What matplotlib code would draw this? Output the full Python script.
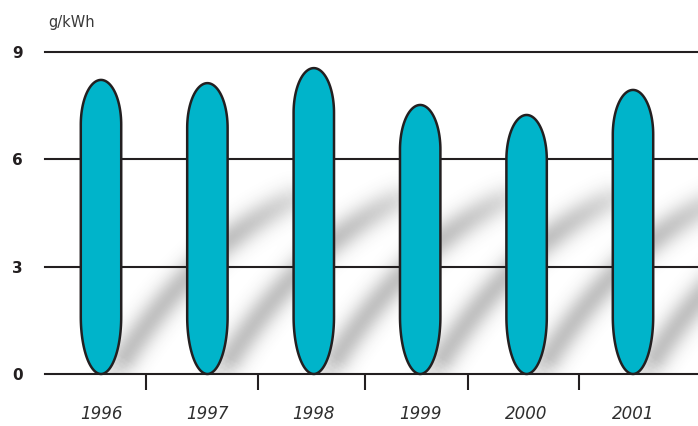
# emission chart: g/kWh per year, capsule bars with soft shadows

import numpy as np
import matplotlib
matplotlib.use("Agg")
import matplotlib.pyplot as plt
from matplotlib.path import Path
from matplotlib.patches import PathPatch


# -------------------------
# Data
# -------------------------
years = ["1996", "1997", "1998", "1999", "2000", "2001"]
values = [8.22, 8.13, 8.55, 7.52, 7.24, 7.94]
y_ticks = [0, 3, 6, 9]
unit_label = "g/kWh"

# -------------------------
# Style / layout
# -------------------------
W, H = 698, 426
BAR_COLOR = "#00b4ca"
INK = "#231f20"
AX_LEFT, AX_BOTTOM, AX_RIGHT, AX_TOP = 45, 52, 698, 374   # pixels from bottom-left
STEP_PX = 106.4                                            # px per category
X0 = -(101 - AX_LEFT) / STEP_PX
X1 = X0 + (AX_RIGHT - AX_LEFT) / STEP_PX
PX_Y = (AX_TOP - AX_BOTTOM) / 9.0
sep_ticks = [0.42, 1.48, 2.48, 3.45, 4.49]


def capsule(xc, top, half_w=0.19, cap_top=1.25, cap_bot=1.6, n=60):
    tb = np.linspace(np.pi, 2 * np.pi, n)
    tt = np.linspace(0, np.pi, n)
    xb = xc + half_w * np.cos(tb)
    yb = cap_bot + cap_bot * np.sin(tb)
    xt = xc + half_w * np.cos(tt)
    yt = top - cap_top + cap_top * np.sin(tt)
    xs = np.concatenate([xb, xt, [xb[0]]])
    ys = np.concatenate([yb, yt, [yb[0]]])
    codes = [Path.MOVETO] + [Path.LINETO] * (len(xs) - 2) + [Path.CLOSEPOLY]
    return Path(np.column_stack([xs, ys]), codes)


def shadow_layer(n_bars, y0=-0.3, y1=9.0, res=2.0):
    nx = int((X1 - X0) * STEP_PX / res)
    ny = int((y1 - y0) * PX_Y / res)
    gx = np.linspace(X0, X1, nx)
    gy = np.linspace(y0, y1, ny)
    X, Y = np.meshgrid(gx, gy)
    t = np.linspace(0, 1, 70)
    keep = np.ones_like(X)
    for i in range(n_bars):
        p0 = np.array([i + 0.13, 0.05])
        p1 = np.array([i + 0.84, 3.47])
        p2 = np.array([i + 1.78, 4.86])
        bx = (1 - t) ** 2 * p0[0] + 2 * (1 - t) * t * p1[0] + t ** 2 * p2[0]
        by = (1 - t) ** 2 * p0[1] + 2 * (1 - t) * t * p1[1] + t ** 2 * p2[1]
        dx = (X[..., None] - bx) * STEP_PX
        dy = (Y[..., None] - by) * PX_Y
        d2 = dx ** 2 + dy ** 2
        k = d2.argmin(axis=-1)
        d = np.sqrt(np.take_along_axis(d2, k[..., None], axis=-1)[..., 0])
        tk = t[k]
        taper = np.clip(tk / 0.06, 0, 1) * np.clip((1 - tk) / 0.3, 0, 1) ** 0.7
        a = 0.32 * np.exp(-(d / 15.0) ** 2) * (0.55 + 0.45 * taper)
        keep *= 1 - a
    alpha = 1 - keep
    img = np.zeros((ny, nx, 4))
    img[..., :3] = 0.25
    img[..., 3] = alpha
    return img, (X0, X1, y0, y1)


fig = plt.figure(figsize=(W / 100, H / 100), dpi=100)
ax = fig.add_axes([AX_LEFT / W, AX_BOTTOM / H,
                   (AX_RIGHT - AX_LEFT) / W, (AX_TOP - AX_BOTTOM) / H])

img, ext = shadow_layer(len(values))
ax.imshow(img, extent=ext, origin="lower", interpolation="bilinear",
          aspect="auto", zorder=0, clip_on=True)
ax.set_xlim(X0, X1)
ax.set_ylim(0, 9)

for v in y_ticks:
    ax.axhline(v, color=INK, lw=1.5, zorder=1, clip_on=False)

for i, v in enumerate(values):
    patch = PathPatch(capsule(i, v), facecolor=BAR_COLOR, edgecolor=INK,
                      lw=1.8, zorder=3, clip_on=False)
    ax.add_patch(patch)

for s in ax.spines.values():
    s.set_visible(False)

ax.set_yticks(y_ticks)
ax.set_yticklabels([str(v) for v in y_ticks], fontsize=11, fontweight="bold",
                   color=INK)
ax.tick_params(axis="y", length=0, pad=16)

ax.set_xticks(sep_ticks)
ax.set_xticklabels([])
ax.tick_params(axis="x", which="major", length=11.5, width=1.5, color=INK,
               direction="out")
ax.set_xticks(range(len(years)), minor=True)
ax.set_xticklabels(years, minor=True, fontsize=12, style="italic", color="#2e2e2e")
ax.tick_params(axis="x", which="minor", length=0, pad=22)

fig.text(48 / W, 1 - 22 / H, unit_label, fontsize=10.5, color="#3a3a3a",
         ha="left", va="center")

fig.savefig("out.png", dpi=100)
